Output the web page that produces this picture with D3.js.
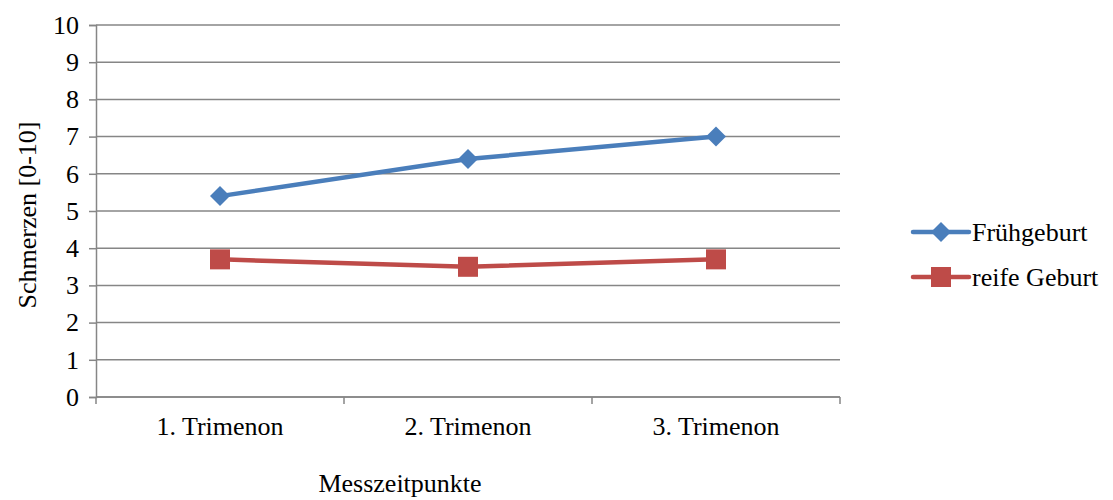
<!DOCTYPE html>
<html>
<head>
<meta charset="utf-8">
<script src="https://cdn.jsdelivr.net/npm/d3@7"></script>
<style>
  body { margin: 0; background: #fff; }
  text { font-family: "Liberation Serif", "Times New Roman", serif; fill: #000; }
</style>
</head>
<body>
<div id="chart"></div>
<script>
// data
var categories = ['1. Trimenon', '2. Trimenon', '3. Trimenon']
var seriesNames = ['Frühgeburt', 'reife Geburt']
var fruehgeburt = [5.4, 6.4, 7.0]
var reifeGeburt = [3.7, 3.5, 3.7]
var yTicks = [0, 1, 2, 3, 4, 5, 6, 7, 8, 9, 10]

var colors = ['#4a7ebb', '#be4b48']
var seriesValues = [fruehgeburt, reifeGeburt]

var width = 1113, height = 500
var margin = {top: 25, right: 273, bottom: 103, left: 96}
var plotW = width - margin.left - margin.right,
    plotH = height - margin.top - margin.bottom

var svg = d3.select('#chart')
    .append('svg')
        .attr('width', width)
        .attr('height', height)

var g = svg.append('g')
    .attr('transform', 'translate(' + margin.left + ',' + margin.top + ')')

var x = d3.scaleBand().domain(categories).range([0, plotW])
var y = d3.scaleLinear().domain([0, 10]).range([plotH, 0])

// gridlines
g.selectAll('line.grid')
    .data(yTicks)
    .enter()
    .append('line')
    .attr('class', 'grid')
    .attr('x1', 0)
    .attr('x2', plotW)
    .attr('y1', function(d) { return y(d) })
    .attr('y2', function(d) { return y(d) })
    .style('stroke', '#868686')
    .style('stroke-width', 1.5)

// y axis
var yAxis = g.append('g')
    .call(d3.axisLeft(y).tickValues(yTicks).tickSize(7).tickPadding(10))
yAxis.attr('font-family', null)
yAxis.select('.domain').style('stroke', '#868686').style('stroke-width', 1.5)
yAxis.selectAll('.tick line').style('stroke', '#868686').style('stroke-width', 1.5)
yAxis.selectAll('.tick text').style('font-size', '26px')

// x axis with ticks at the band edges
var xAxis = g.append('g')
    .attr('transform', 'translate(0,' + plotH + ')')
xAxis.append('line')
    .attr('x1', 0).attr('x2', plotW)
    .style('stroke', '#868686').style('stroke-width', 1.5)
var edges = categories.map(function(c) { return x(c) }).concat([plotW])
xAxis.selectAll('line.edge')
    .data(edges)
    .enter()
    .append('line')
    .attr('class', 'edge')
    .attr('x1', function(d) { return d }).attr('x2', function(d) { return d })
    .attr('y1', 0).attr('y2', 7)
    .style('stroke', '#868686').style('stroke-width', 1.5)
xAxis.selectAll('text')
    .data(categories)
    .enter()
    .append('text')
    .attr('x', function(d) { return x(d) + x.bandwidth() / 2 })
    .attr('y', 38)
    .attr('text-anchor', 'middle')
    .style('font-size', '26px')
    .text(function(d) { return d })

// axis titles
svg.append('text')
    .attr('transform', 'translate(36,215) rotate(-90)')
    .attr('text-anchor', 'middle')
    .style('font-size', '26px')
    .text('Schmerzen [0-10]')

svg.append('text')
    .attr('x', 400)
    .attr('y', 492)
    .attr('text-anchor', 'middle')
    .style('font-size', '26px')
    .text('Messzeitpunkte')

// lines
var line = d3.line()
    .x(function(d, i) { return x(categories[i]) + x.bandwidth() / 2 })
    .y(function(d) { return y(d) })

seriesValues.forEach(function(vals, s) {
    g.append('path')
        .datum(vals)
        .attr('d', line)
        .style('fill', 'none')
        .style('stroke', colors[s])
        .style('stroke-width', 4.5)
        .style('stroke-linejoin', 'round')
})

function drawMarker(sel, s) {
    if (s === 0) {
        sel.append('path')
            .attr('d', 'M0,-10L10,0L0,10L-10,0Z')
            .style('fill', colors[s])
    } else {
        sel.append('rect')
            .attr('x', -10).attr('y', -10)
            .attr('width', 20).attr('height', 20)
            .style('fill', colors[s])
    }
}

seriesValues.forEach(function(vals, s) {
    g.selectAll('g.m' + s)
        .data(vals)
        .enter()
        .append('g')
        .attr('class', 'm' + s)
        .attr('transform', function(d, i) {
            return 'translate(' + (x(categories[i]) + x.bandwidth() / 2) + ',' + y(d) + ')'
        })
        .each(function() { drawMarker(d3.select(this), s) })
})

// legend
var legend = svg.append('g').attr('transform', 'translate(913,232)')
seriesNames.forEach(function(name, s) {
    var row = legend.append('g').attr('transform', 'translate(0,' + (s * 45) + ')')
    row.append('line')
        .attr('x1', 0).attr('x2', 56)
        .style('stroke', colors[s])
        .style('stroke-width', 4.5)
        .style('stroke-linecap', 'round')
    var mk = row.append('g').attr('transform', 'translate(28,0)')
    drawMarker(mk, s)
    row.append('text')
        .attr('x', 59)
        .attr('y', 9)
        .style('font-size', '26px')
        .text(name)
})
</script>
</body>
</html>
